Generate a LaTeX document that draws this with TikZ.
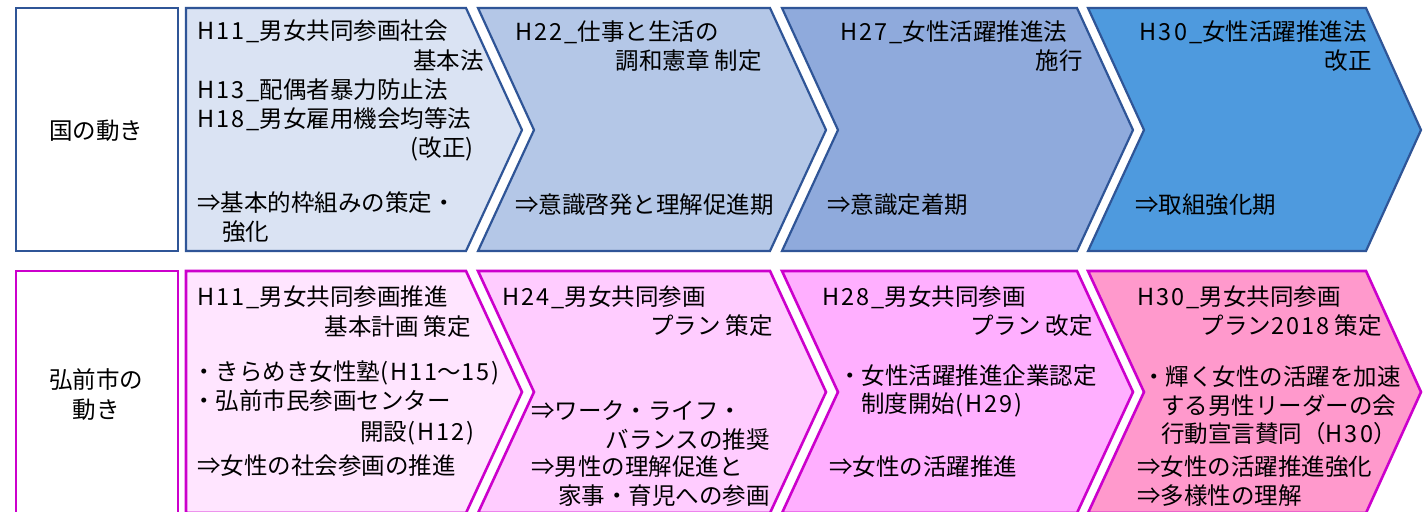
\documentclass[tikz,border=0pt]{standalone}
\usepackage{fontspec}
\newfontfamily\jp{Noto Sans CJK JP}
\newfontfamily\ltfont{Noto Sans CJK JP}[LetterSpace=9]
\newcommand\LT[1]{{\ltfont #1}}
\definecolor{topline}{RGB}{47,85,151}
\definecolor{botline}{RGB}{204,0,204}
\definecolor{tA}{RGB}{218,227,243}
\definecolor{tB}{RGB}{180,199,231}
\definecolor{tC}{RGB}{143,170,220}
\definecolor{tD}{RGB}{78,154,222}
\definecolor{bA}{RGB}{255,229,255}
\definecolor{bB}{RGB}{255,204,255}
\definecolor{bC}{RGB}{255,175,255}
\definecolor{bD}{RGB}{255,153,204}
\begin{document}
\begin{tikzpicture}[x=1pt,y=-1pt,
  txt/.style={font=\jp\fontsize{23.5}{29}\selectfont, inner sep=0pt, text height=0.88em, text depth=0.12em, yshift=-4pt},
  L/.style={txt,anchor=west},
  R/.style={txt,anchor=east},
  topshape/.style={draw=topline, line width=2.2pt, line join=miter},
  botshape/.style={draw=botline, line width=2.6pt, line join=miter}]
\useasboundingbox (0,0) rectangle (1423,511);
\clip (0,0) rectangle (1423,511);
\fill[white] (0,0) rectangle (1423,511);
% top row shapes
\path[topshape, fill=white] (16,8) rectangle (178,251);
\path[topshape, fill=tA] (186,8) -- (466,8) -- (522,130) -- (466,251) -- (186,251) -- cycle;
\path[topshape, fill=tB] (478,8) -- (770,8) -- (826,130) -- (770,251) -- (478,251) -- (534,130) -- cycle;
\path[topshape, fill=tC] (782,8) -- (1077,8) -- (1133,130) -- (1077,251) -- (782,251) -- (838,130) -- cycle;
\path[topshape, fill=tD] (1088,8) -- (1366,8) -- (1421,130) -- (1366,251) -- (1088,251) -- (1144,130) -- cycle;
% bottom row shapes
\path[botshape, fill=white] (16,271) rectangle (178,520);
\path[botshape, fill=bA] (186,271) -- (466,271) -- (522,392) -- (466,513) -- (186,513) -- cycle;
\path[botshape, fill=bB] (478,271) -- (770,271) -- (826,392) -- (770,513) -- (478,513) -- (534,392) -- cycle;
\path[botshape, fill=bC] (782,271) -- (1077,271) -- (1133,392) -- (1077,513) -- (782,513) -- (838,392) -- cycle;
\path[botshape, fill=bD] (1088,271) -- (1366,271) -- (1421,392) -- (1366,513) -- (1088,513) -- (1144,392) -- cycle;
% top row texts
\node[txt] (n0) at (96,132) {国の動き};
\node[L] (a1) at (197,32) {\LT{H11\_}男女共同参画社会};
\node[R] (a2) at (484,62) {基本法};
\node[L] (a3) at (197,91) {\LT{H13\_}配偶者暴力防止法};
\node[L] (a4) at (197,120) {\LT{H18\_}男女雇用機会均等法};
\node[R] (a5) at (474,149) {(改正)};
\node[L] (a6) at (197,204) {⇒基本的枠組みの策定・};
\node[L] (a7) at (222,233) {強化};
\node[L] (b1) at (515,33) {\LT{H22\_}仕事と生活の};
\node[R] (b2) at (762,62) {調和憲章 制定};
\node[L] (b3) at (515,206) {⇒意識啓発と理解促進期};
\node[L] (c1) at (840,33) {\LT{H27\_}女性活躍推進法};
\node[R] (c2) at (1083,62) {施行};
\node[L] (c3) at (827,206) {⇒意識定着期};
\node[R] (d1) at (1367,33) {\LT{H30\_}女性活躍推進法};
\node[R] (d2) at (1372,62) {改正};
\node[L] (d3) at (1135,206) {⇒取組強化期};
% bottom row texts
\node[txt] (m0) at (96,381) {弘前市の};
\node[txt] (m1) at (96,411) {動き};
\node[L] (e1) at (197,298) {\LT{H11\_}男女共同参画推進};
\node[R] (e2) at (471,328) {基本計画 策定};
\node[L] (e3) at (192,373) {・きらめき女性塾\LT{(H11}～\LT{15)}};
\node[L] (e4) at (192,402) {・弘前市民参画センター};
\node[R] (e5) at (475,433) {開設\LT{(H12)}};
\node[L] (e6) at (197,467) {⇒女性の社会参画の推進};
\node[L] (f1) at (502,298) {\LT{H24\_}男女共同参画};
\node[R] (f2) at (773,327) {プラン 策定};
\node[L] (f3) at (531,412) {⇒ワーク・ライフ・};
\node[R] (f4) at (770,441) {バランスの推奨};
\node[L] (f5) at (531,468) {⇒男性の理解促進と};
\node[R] (f6) at (770,497) {家事・育児への参画};
\node[L] (g1) at (822,298) {\LT{H28\_}男女共同参画};
\node[R] (g2) at (1093,327) {プラン 改定};
\node[R] (g3) at (1097,377) {・女性活躍推進企業認定};
\node[L] (g4) at (861,405) {制度開始\LT{(H29)}};
\node[L] (g5) at (829,468) {⇒女性の活躍推進};
\node[L] (h1) at (1137,298) {\LT{H30\_}男女共同参画};
\node[R] (h2) at (1382,327) {プラン\LT{2018} 策定};
\node[L] (h3) at (1142,378) {・輝く女性の活躍を加速};
\node[L] (h4) at (1161,407) {する男性リーダーの会};
\node[L] (h5) at (1161,435) {行動宣言賛同（\LT{H30}）};
\node[L] (h6) at (1137,468) {⇒女性の活躍推進強化};
\node[L] (h7) at (1137,497) {⇒多様性の理解};
\end{tikzpicture}
\end{document}
